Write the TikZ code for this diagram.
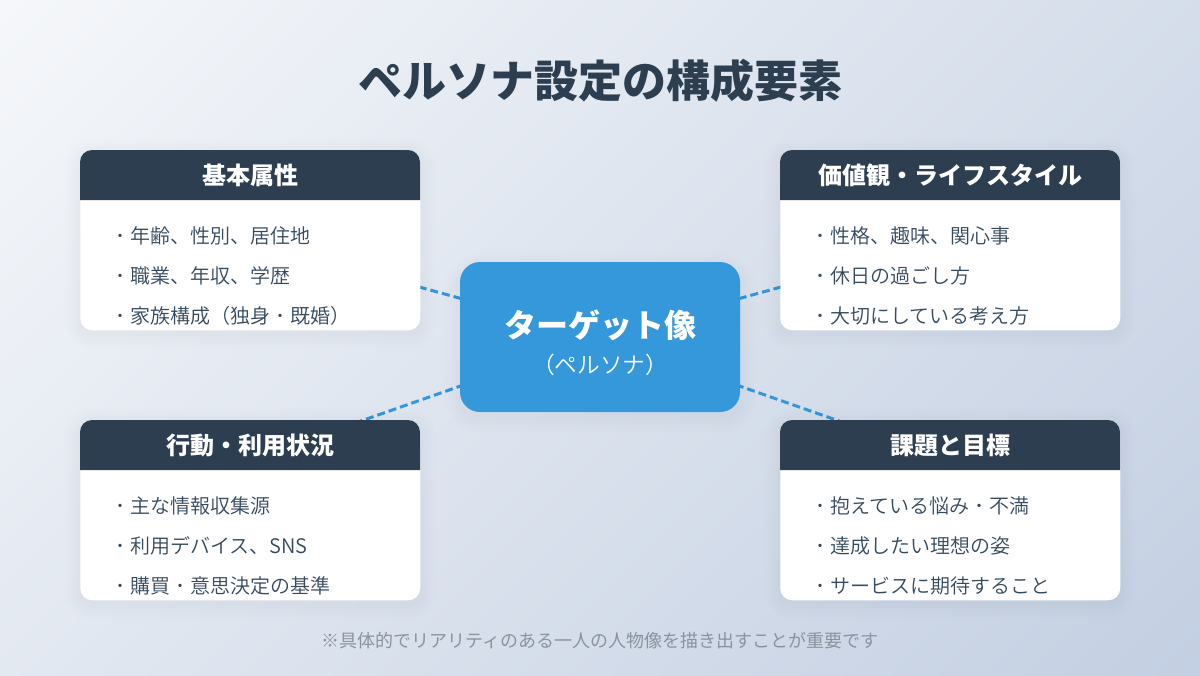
\documentclass[tikz,border=0pt]{standalone}
\usepackage{fontspec}
\setmainfont{Noto Sans CJK JP}
\newfontfamily\titlefont{Noto Sans CJK JP Black}
\newfontfamily\lightfont{Noto Sans CJK JP DemiLight}
\newfontfamily\dotfont{Noto Sans CJK JP Thin}
\newcommand{\nd}{{\dotfont ・}}
\usetikzlibrary{calc}
\pgfdeclarelayer{bgl}
\pgfdeclarelayer{linel}
\pgfsetlayers{bgl,linel,main}
\definecolor{bgA}{HTML}{F5F7FA}
\definecolor{bgB}{HTML}{C3CFE2}
\definecolor{navy}{HTML}{2C3E50}
\definecolor{body}{HTML}{34495E}
\definecolor{hub}{HTML}{3498DB}
\definecolor{foot}{HTML}{8A949E}
\tikzset{
  x=0.75pt,y=-0.75pt,
  cardbox/.style={minimum width=255pt,minimum height=135pt,inner sep=0pt,rounded corners=9pt,fill=white},
  headtxt/.style={text=white,font=\fontsize{18}{22}\selectfont\bfseries,inner sep=0pt},
  itemtxt/.style={text=body,font=\fontsize{15}{20}\lightfont,anchor=west,inner sep=0pt},
  link/.style={draw=hub,line width=2.25pt,dash pattern=on 6pt off 3pt},
}
\newcommand{\softshadow}[6]{% x1 y1 x2 y2 radius yoff
  \foreach \e in {16,14,12,10,8,6,4,2}{
    \fill[black,opacity=0.005,rounded corners=#5+\e*0.75]
      (#1-\e,#2+#6-\e) rectangle (#3+\e,#4+#6+\e);
  }
}
\newcommand{\card}[7]{% name x y title l1 l2 l3
  \softshadow{#2}{#3}{#2+340}{#3+180}{9pt}{4}
  \node[cardbox,anchor=north west] (#1) at (#2,#3) {};
  \fill[navy] (#2,#3+50) -- (#2,#3+12) arc[start angle=180,end angle=270,radius=12]
    -- (#2+328,#3) arc[start angle=270,end angle=360,radius=12] -- (#2+340,#3+50) -- cycle;
  \node[headtxt] (#1h) at (#2+170,#3+25) {#4};
  \node[itemtxt] (#1a) at (#2+30,#3+86) {\nd#5};
  \node[itemtxt] (#1b) at (#2+30,#3+126) {\nd#6};
  \node[itemtxt] (#1c) at (#2+30,#3+166) {\nd#7};
}
\begin{document}
\begin{tikzpicture}
\useasboundingbox (0,0) rectangle (1200,675);
\begin{pgfonlayer}{bgl}
\begin{scope}
\clip (0,0) rectangle (1200,675);
\shade[top color=bgA,bottom color=bgB,shading angle=45] (600-663,337.5-663) rectangle (600+663,337.5+663);
\end{scope}
\end{pgfonlayer}
\node[text=navy,font=\fontsize{33}{40}\titlefont,inner sep=0pt] (title) at (600,81) {ペルソナ設定の構成要素};
\card{c1}{80}{150}{基本属性}{年齢、性別、居住地}{職業、年収、学歴}{家族構成（独身\nd 既婚）}
\card{c2}{780}{150}{価値観・ライフスタイル}{性格、趣味、関心事}{休日の過ごし方}{大切にしている考え方}
\card{c3}{80}{420}{行動・利用状況}{主な情報収集源}{利用デバイス、SNS}{購買\nd 意思決定の基準}
\card{c4}{780}{420}{課題と目標}{抱えている悩み\nd 不満}{達成したい理想の姿}{サービスに期待すること}
\softshadow{460}{262}{740}{412}{15pt}{6}
\node[fill=hub,rounded corners=15pt,minimum width=210pt,minimum height=112.5pt,inner sep=0pt] (center) at (600,337) {};
\node[text=white,font=\fontsize{24}{30}\selectfont\bfseries,inner sep=0pt] (ct) at (600,325) {ターゲット像};
\node[text=white,font=\fontsize{17}{22}\lightfont,inner sep=0pt] (cs) at (600,365) {（ペルソナ）};
\node[text=foot,font=\fontsize{13.5}{18}\selectfont,inner sep=0pt] (note) at (600,640.5) {※具体的でリアリティのある一人の人物像を描き出すことが重要です};
\coordinate (e3) at (250,460);
\coordinate (e4) at (950,460);
\begin{pgfonlayer}{linel}
\draw[link] (center.center) -- (c1.center);
\draw[link] (center.center) -- (c2.center);
\draw[link] (center.center) -- (e3);
\draw[link] (center.center) -- (e4);
\end{pgfonlayer}
\end{tikzpicture}
\end{document}
